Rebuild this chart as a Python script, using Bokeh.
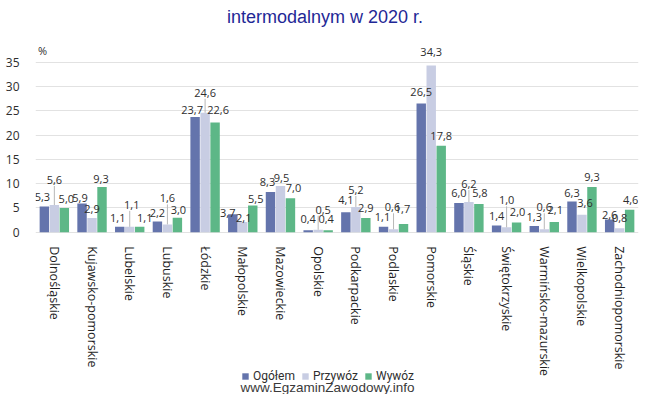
from bokeh.plotting import figure
from bokeh.models import (ColumnDataSource, FactorRange, Range1d, FixedTicker, Label,
                          Legend, LegendItem)
from bokeh.transform import dodge
from bokeh.core.properties import value
from bokeh.embed import file_html
from bokeh.resources import INLINE

# ---------------- data ----------------
regions = ["Dolnośląskie", "Kujawsko-pomorskie", "Lubelskie", "Lubuskie", "Łódzkie",
           "Małopolskie", "Mazowieckie", "Opolskie", "Podkarpackie", "Podlaskie",
           "Pomorskie", "Śląskie", "Świętokrzyskie", "Warmińsko-mazurskie",
           "Wielkopolskie", "Zachodniopomorskie"]
ogolem = [5.3, 5.9, 1.1, 2.2, 23.7, 3.7, 8.3, 0.4, 4.1, 1.1, 26.5, 6.0, 1.4, 1.3, 6.3, 2.6]
przywoz = [5.6, 2.9, 1.1, 1.6, 24.6, 2.1, 9.5, 0.5, 5.2, 0.6, 34.3, 6.2, 1.0, 0.6, 3.6, 0.8]
wywoz = [5.0, 9.3, 1.1, 3.0, 22.6, 5.5, 7.0, 0.4, 2.9, 1.7, 17.8, 5.8, 2.0, 2.1, 9.3, 4.6]
series_names = ["Ogółem", "Przywóz", "Wywóz"]
y_ticks = [0, 5, 10, 15, 20, 25, 30, 35]
title_text = "intermodalnym w 2020 r."
footer_text = "www.EgzaminZawodowy.info"

# label placement (pixels above bar top, horizontal nudges) – styling only
ogo_dy = [9, 6, 9, 9, 7, 1, 10, 11, 12, 10, 11, 10, 9, 9, 9, 5]
prz_dy = [25, 9, 22, 26, 20, 4, 8, 20, 17, 22, 14, 18, 27, 22, 12, 10]
wyw_dy = [9, 8, 9, 8, 12, 6, 10, 11, 10, 15, 10, 11, 10, 12, 10, 10]
ogo_dx = [-2, -2, -2, 0, -3, -5, -3, 0, 0, -1, 0, 0, 0, 0, 0, 0]
prz_dx = [0, 0, 2, 0, 0, 1, 1, 5, 0, -1, 0, 0, 0, 0, 3, 0]
wyw_dx = [2, -1, 5, 1, 3, 3, 3, -2, 0, -1, 0, 1, 1, 1, 0, 1]

colors = ["#6474ac", "#c8cde3", "#5db787"]

FIG_W, FIG_H = 648, 394
B_LEFT, B_RIGHT = 35, 10
ZERO_Y = 231.7          # pixel row of the value 0
PPU = 4.857             # pixels per percentage point
Y_START = -(FIG_H - ZERO_Y) / PPU
Y_END = ZERO_Y / PPU

def fmt(v):
    return ("%.1f" % v).replace(".", ",")

src = ColumnDataSource(dict(
    region=regions, ogolem=ogolem, przywoz=przywoz, wywoz=wywoz,
    ogo_lbl=[fmt(v) for v in ogolem], prz_lbl=[fmt(v) for v in przywoz],
    wyw_lbl=[fmt(v) for v in wywoz],
    ogo_dy=[-d for d in ogo_dy], prz_dy=[-d for d in prz_dy], wyw_dy=[-d for d in wyw_dy],
    ogo_dx=ogo_dx, prz_dx=prz_dx, wyw_dx=wyw_dx,
))

# leader lines for Przywóz labels lifted away from bars
lead_x, lead_y0, lead_y1 = [], [], []
for r, v, d in zip(regions, przywoz, prz_dy):
    if d >= 15:
        lead_x.append(r)
        lead_y0.append(v)
        lead_y1.append(v + (d - 6) / PPU)
lead_src = ColumnDataSource(dict(x=lead_x, y0=lead_y0, y1=lead_y1))

p = figure(width=FIG_W, height=FIG_H, x_range=FactorRange(factors=regions),
           y_range=Range1d(Y_START, Y_END), output_backend="svg", toolbar_location=None,
           min_border_left=B_LEFT, min_border_right=B_RIGHT, min_border_top=0,
           min_border_bottom=0)
p.outline_line_color = None
p.background_fill_color = "white"
p.border_fill_color = "white"

OFF = 0.265
W = 0.25
keys = ["ogolem", "przywoz", "wywoz"]
offs = [-OFF, 0, OFF]
renderers = []
for k, o, c in zip(keys, offs, colors):
    r = p.vbar(x=dodge("region", o, range=p.x_range), top=k, width=W, source=src,
               fill_color=c, line_color=None)
    renderers.append(r)

p.segment(x0=dodge("x", 0, range=p.x_range), y0="y0",
          x1=dodge("x", 0, range=p.x_range), y1="y1",
          source=lead_src, line_color="#b8b8b8", line_width=1)

for k, o, lbl, dy, dx in zip(keys, offs, ["ogo_lbl", "prz_lbl", "wyw_lbl"],
                             ["ogo_dy", "prz_dy", "wyw_dy"], ["ogo_dx", "prz_dx", "wyw_dx"]):
    p.text(x=dodge("region", o, range=p.x_range), y=k, text=lbl, source=src,
           x_offset=dx, y_offset=dy, text_align="center", text_baseline="middle",
           text_font=value("Open Sans"), text_font_size="11px", text_color="#2e2e2e")

# axes
p.yaxis.ticker = FixedTicker(ticks=y_ticks)
p.yaxis.axis_line_color = None
p.yaxis.major_tick_line_color = None
p.yaxis.minor_tick_line_color = None
p.yaxis.major_label_standoff = 10
p.yaxis.major_label_text_font = "Open Sans"
p.yaxis.major_label_text_font_size = "12px"
p.yaxis.major_label_text_color = "#2e2e2e"

p.xaxis.fixed_location = 0
p.xaxis.axis_line_color = None
p.xaxis.major_tick_line_color = None
p.xaxis.minor_tick_line_color = None
p.xaxis.major_label_orientation = "vertical"
p.xaxis.major_label_standoff = 8
p.xaxis.major_label_text_font = "Open Sans"
p.xaxis.major_label_text_font_size = "12.5px"
p.xaxis.major_label_text_color = "#1e1e1e"

p.xgrid.grid_line_color = None
p.ygrid.ticker = FixedTicker(ticks=y_ticks)
p.ygrid.grid_line_color = "#e2e2e2"
p.ygrid.grid_line_width = 1

# title, % sign, footer (screen units measured from the frame's bottom-left)
p.add_layout(Label(x=289.5, y=FIG_H - 16, x_units="screen", y_units="screen",
                   text=title_text, text_align="center", text_baseline="middle",
                   text_font="Liberation Sans", text_font_size="18px",
                   text_color="#1f2896"))
p.add_layout(Label(x=7, y=FIG_H - 50, x_units="screen", y_units="screen",
                   text="%", text_align="center", text_baseline="middle",
                   text_font="Open Sans", text_font_size="11px", text_color="#2e2e2e"))
p.add_layout(Label(x=292, y=FIG_H - 387, x_units="screen", y_units="screen",
                   text=footer_text, text_align="center", text_baseline="middle",
                   text_font="Liberation Sans", text_font_size="13.5px",
                   text_color="#3a3a3a"))

legend = Legend(items=[LegendItem(label=n, renderers=[r]) for n, r in zip(series_names, renderers)],
                orientation="horizontal", location=(206, FIG_H - 383),
                padding=0, margin=0, spacing=6, label_standoff=4,
                glyph_width=8, glyph_height=8, label_height=12, label_width=10,
                border_line_color=None, background_fill_alpha=0,
                label_text_font="Roboto", label_text_font_size="12px",
                label_text_color="#2e2e2e")
p.add_layout(legend)

open("out.html", "w").write(file_html(p, INLINE))
